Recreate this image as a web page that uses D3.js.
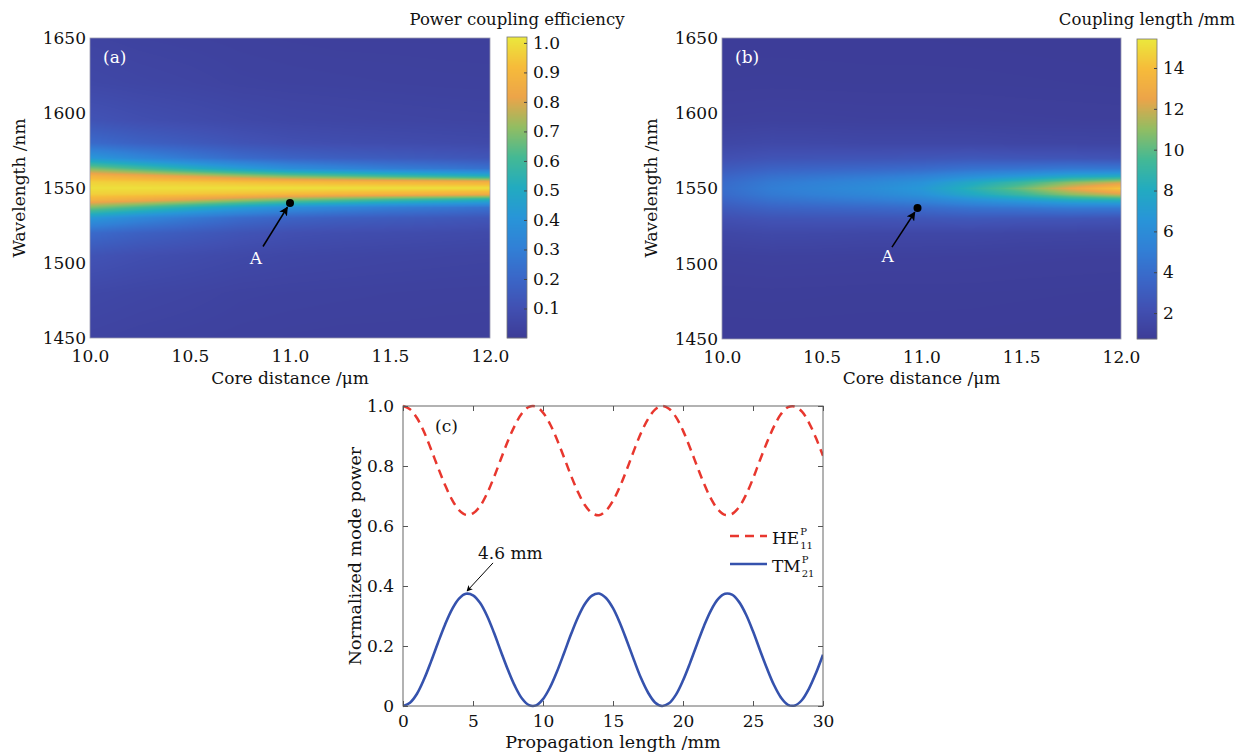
<!DOCTYPE html>
<html>
<head>
<meta charset="utf-8">
<script src="https://cdnjs.cloudflare.com/ajax/libs/d3/7.8.5/d3.min.js"></script>
<style>
  body { margin: 0; background: #fff; }
  text { font-family: "DejaVu Serif", serif; fill: #111; }
  .tick text { font-size: 17px; }
</style>
</head>
<body>
<div id="chart"></div>
<script>
//Grid of the two maps (columns = core distance, rows = wavelength).
var coreDistance = [10.0, 10.25, 10.5, 10.75, 11.0, 11.25, 11.5, 11.75, 12.0];
var wavelength = [1450, 1480, 1505, 1520, 1530, 1537, 1542, 1546, 1550,
                  1554, 1558, 1563, 1570, 1580, 1595, 1620, 1650];

//Power coupling efficiency, one row per wavelength.
var efficiency = [
  [0.040, 0.033, 0.029, 0.025, 0.022, 0.020, 0.020, 0.020, 0.020],
  [0.060, 0.051, 0.044, 0.035, 0.032, 0.030, 0.028, 0.026, 0.025],
  [0.116, 0.094, 0.080, 0.066, 0.056, 0.051, 0.047, 0.044, 0.041],
  [0.217, 0.176, 0.148, 0.118, 0.098, 0.088, 0.082, 0.076, 0.070],
  [0.420, 0.340, 0.276, 0.220, 0.186, 0.166, 0.153, 0.140, 0.126],
  [0.690, 0.610, 0.525, 0.445, 0.373, 0.333, 0.296, 0.272, 0.245],
  [0.880, 0.845, 0.795, 0.735, 0.677, 0.637, 0.594, 0.556, 0.517],
  [0.966, 0.957, 0.946, 0.930, 0.913, 0.900, 0.890, 0.878, 0.865],
  [1.000, 1.000, 1.000, 1.000, 1.000, 1.000, 1.000, 1.000, 1.000],
  [0.966, 0.957, 0.946, 0.930, 0.913, 0.900, 0.890, 0.878, 0.865],
  [0.880, 0.845, 0.795, 0.735, 0.677, 0.637, 0.594, 0.556, 0.517],
  [0.690, 0.610, 0.525, 0.445, 0.373, 0.333, 0.296, 0.272, 0.245],
  [0.420, 0.340, 0.276, 0.220, 0.186, 0.166, 0.153, 0.140, 0.126],
  [0.217, 0.176, 0.148, 0.118, 0.098, 0.088, 0.082, 0.076, 0.070],
  [0.116, 0.094, 0.080, 0.066, 0.056, 0.051, 0.047, 0.044, 0.041],
  [0.060, 0.051, 0.044, 0.035, 0.032, 0.030, 0.028, 0.026, 0.025],
  [0.040, 0.033, 0.029, 0.025, 0.022, 0.020, 0.020, 0.020, 0.020]
];

//Coupling length (mm), one row per wavelength.
var couplingLength = [
  [0.81, 0.81, 0.81, 0.81, 0.81, 0.80, 0.79, 0.78, 0.78],
  [0.87, 0.88, 0.87, 0.86, 0.86, 0.86, 0.85, 0.84, 0.82],
  [1.07, 1.12, 1.10, 1.07, 1.07, 1.05, 1.01, 0.99, 0.98],
  [1.52, 1.67, 1.63, 1.56, 1.56, 1.55, 1.45, 1.42, 1.39],
  [2.16, 2.43, 2.48, 2.50, 2.59, 2.71, 2.59, 2.54, 2.40],
  [2.87, 3.40, 3.56, 3.70, 3.91, 4.33, 4.49, 4.76, 4.70],
  [3.45, 4.22, 4.56, 4.85, 5.30, 6.18, 6.92, 7.81, 8.15],
  [3.84, 4.77, 5.22, 5.63, 6.35, 7.81, 9.16, 10.86, 12.00],
  [4.00, 5.00, 5.50, 6.00, 6.80, 8.50, 10.30, 12.50, 14.30],
  [3.84, 4.77, 5.22, 5.63, 6.35, 7.81, 9.16, 10.86, 12.00],
  [3.45, 4.22, 4.56, 4.85, 5.30, 6.18, 6.92, 7.81, 8.15],
  [2.87, 3.40, 3.56, 3.70, 3.91, 4.33, 4.49, 4.76, 4.70],
  [2.16, 2.43, 2.48, 2.50, 2.59, 2.71, 2.59, 2.54, 2.40],
  [1.52, 1.67, 1.63, 1.56, 1.56, 1.55, 1.45, 1.42, 1.39],
  [1.07, 1.12, 1.10, 1.07, 1.07, 1.05, 1.01, 0.99, 0.98],
  [0.87, 0.88, 0.87, 0.86, 0.86, 0.86, 0.85, 0.84, 0.82],
  [0.81, 0.81, 0.81, 0.81, 0.81, 0.80, 0.79, 0.78, 0.78]
];

var coreTicks = [10.0, 10.5, 11.0, 11.5, 12.0];
var wavelengthTicks = [1450, 1500, 1550, 1600, 1650];
var efficiencyTicks = [0.1, 0.2, 0.3, 0.4, 0.5, 0.6, 0.7, 0.8, 0.9, 1.0];
var lengthTicks = [2, 4, 6, 8, 10, 12, 14];

//Point A and its arrow, [core distance, wavelength] for (a) and (b).
var pointA = [[11.0, 1540], [10.98, 1537]];
var arrowTailA = [[10.865, 1511], [10.852, 1511]];
var labelA = [[10.83, 1503], [10.83, 1505]];

//Panel (c): normalized mode power along the propagation length (mm).
var propLength = [0, 0.5, 1, 1.5, 2, 2.5, 3, 3.5, 4, 4.5, 5, 5.5, 6, 6.5, 7, 7.5,
  8, 8.5, 9, 9.5, 10, 10.5, 11, 11.5, 12, 12.5, 13, 13.5, 14, 14.5, 15, 15.5,
  16, 16.5, 17, 17.5, 18, 18.5, 19, 19.5, 20, 20.5, 21, 21.5, 22, 22.5, 23,
  23.5, 24, 24.5, 25, 25.5, 26, 26.5, 27, 27.5, 28, 28.5, 29, 29.5, 30];
var powerHE = [1.000, 0.989, 0.960, 0.914, 0.856, 0.795, 0.737, 0.688, 0.653,
  0.637, 0.642, 0.666, 0.708, 0.763, 0.824, 0.884, 0.936, 0.976, 0.997, 0.998,
  0.978, 0.940, 0.888, 0.829, 0.768, 0.713, 0.669, 0.643, 0.636, 0.651, 0.684,
  0.732, 0.790, 0.852, 0.910, 0.956, 0.988, 1.000, 0.991, 0.963, 0.918, 0.861,
  0.800, 0.741, 0.691, 0.655, 0.637, 0.640, 0.663, 0.704, 0.758, 0.820, 0.879,
  0.932, 0.973, 0.996, 0.998, 0.981, 0.944, 0.893, 0.834];
var powerTM = [0.000, 0.011, 0.041, 0.089, 0.148, 0.211, 0.271, 0.322, 0.358,
  0.374, 0.369, 0.344, 0.301, 0.244, 0.181, 0.120, 0.066, 0.025, 0.003, 0.002,
  0.023, 0.062, 0.115, 0.176, 0.239, 0.296, 0.341, 0.368, 0.375, 0.360, 0.326,
  0.276, 0.216, 0.153, 0.093, 0.045, 0.012, 0.000, 0.009, 0.038, 0.085, 0.143,
  0.206, 0.267, 0.319, 0.356, 0.374, 0.371, 0.347, 0.305, 0.249, 0.186, 0.125,
  0.070, 0.028, 0.004, 0.002, 0.020, 0.058, 0.110, 0.171];
var propTicks = [0, 5, 10, 15, 20, 25, 30];
var powerTicks = [0, 0.2, 0.4, 0.6, 0.8, 1.0];
var peakNote = [[4.57, 0.383], [6.43, 0.477], [5.36, 0.49]]; //arrow head, arrow tail, text

//Parula-like colour map as printed.
var cmapStops = [0, 0.1, 0.2, 0.3, 0.4, 0.5, 0.6, 0.7, 0.8, 0.9, 1.0];
var cmapColors = ['#3d3c97', '#4150b2', '#3a67c8', '#3180d6', '#2895d8', '#22abc0',
                  '#44b994', '#92bd62', '#eca449', '#f6bb3a', '#ebe83c'];

var svg = d3.select('#chart').append('svg')
    .attr('width', 1243)
    .attr('height', 755);

var defs = svg.append('defs');
defs.append('marker')
    .attr('id', 'arrow')
    .attr('viewBox', '0 0 10 10')
    .attr('refX', 9).attr('refY', 5)
    .attr('markerWidth', 6).attr('markerHeight', 6)
    .attr('orient', 'auto')
  .append('path')
    .attr('d', 'M0,0 L10,5 L0,10 L2.5,5 z')
    .attr('fill', '#000');

//find the cell and the fraction inside it
function locate(arr, v) {
  var i = d3.bisectRight(arr, v) - 1;
  i = Math.max(0, Math.min(arr.length - 2, i));
  var t = (v - arr[i]) / (arr[i + 1] - arr[i]);
  return [i, Math.max(0, Math.min(1, t))];
}

function heatPanel(cfg) {
  var x = d3.scaleLinear().domain([10, 12]).range([cfg.left, cfg.right]);
  var y = d3.scaleLinear().domain([1450, 1650]).range([cfg.bottom, cfg.top]);
  var color = d3.scaleLinear()
      .domain(cmapStops.map(function(t) { return cfg.cLo + t * (cfg.cHi - cfg.cLo); }))
      .range(cmapColors)
      .clamp(true);

  //paint the map into a canvas, then put it in the svg
  var W = cfg.right - cfg.left, H = cfg.bottom - cfg.top;
  var canvas = document.createElement('canvas');
  canvas.width = W; canvas.height = H;
  var ctx = canvas.getContext('2d');
  var img = ctx.createImageData(W, H);
  var g = cfg.grid;
  var cols = d3.range(W).map(function(px) { return locate(coreDistance, x.invert(cfg.left + px + 0.5)); });
  for (var py = 0; py < H; py++) {
    var r = locate(wavelength, y.invert(cfg.top + py + 0.5));
    var i = r[0], a = r[1];
    for (var px = 0; px < W; px++) {
      var j = cols[px][0], b = cols[px][1];
      var v = (1 - a) * ((1 - b) * g[i][j] + b * g[i][j + 1]) +
              a * ((1 - b) * g[i + 1][j] + b * g[i + 1][j + 1]);
      var c = d3.rgb(color(v));
      var k = (py * W + px) * 4;
      img.data[k] = c.r; img.data[k + 1] = c.g; img.data[k + 2] = c.b; img.data[k + 3] = 255;
    }
  }
  ctx.putImageData(img, 0, 0);
  svg.append('image')
      .attr('x', cfg.left).attr('y', cfg.top)
      .attr('width', W).attr('height', H)
      .attr('preserveAspectRatio', 'none')
      .attr('href', canvas.toDataURL());
  svg.append('rect')
      .attr('x', cfg.left).attr('y', cfg.top)
      .attr('width', W).attr('height', H)
      .attr('fill', 'none').attr('stroke', '#9a9ab0').attr('stroke-width', 0.8);

  //axes
  svg.append('g')
      .attr('transform', 'translate(0,' + cfg.bottom + ')')
      .call(d3.axisBottom(x).tickValues(coreTicks).tickFormat(d3.format('.1f')).tickSize(0).tickPadding(12))
      .call(function(s) { s.select('.domain').remove(); });
  svg.append('g')
      .attr('transform', 'translate(' + cfg.left + ',0)')
      .call(d3.axisLeft(y).tickValues(wavelengthTicks).tickFormat(d3.format('d')).tickSize(0).tickPadding(4))
      .call(function(s) { s.select('.domain').remove(); });
  svg.selectAll('.tick text').attr('fill', '#111').style('font-family', '"DejaVu Serif", serif');

  svg.append('text')
      .attr('x', (cfg.left + cfg.right) / 2).attr('y', 384)
      .attr('text-anchor', 'middle').style('font-size', '17px')
      .text('Core distance /\u03bcm');
  svg.append('text')
      .attr('transform', 'translate(' + (cfg.left - 65) + ',188) rotate(-90)')
      .attr('text-anchor', 'middle').style('font-size', '17px')
      .text('Wavelength /nm');
  svg.append('text')
      .attr('x', cfg.left + 13).attr('y', 63)
      .style('font-size', '17px').style('fill', '#fff')
      .text(cfg.tag);

  //point A with arrow
  var p = pointA[cfg.idx], tl = arrowTailA[cfg.idx], lb = labelA[cfg.idx];
  var px0 = x(tl[0]), py0 = y(tl[1]), px1 = x(p[0]), py1 = y(p[1]);
  var len = Math.hypot(px1 - px0, py1 - py0);
  svg.append('line')
      .attr('x1', px0).attr('y1', py0)
      .attr('x2', px1 - (px1 - px0) / len * 5).attr('y2', py1 - (py1 - py0) / len * 5)
      .attr('stroke', '#000').attr('stroke-width', 1.5)
      .attr('marker-end', 'url(#arrow)');
  svg.append('circle')
      .attr('cx', px1).attr('cy', py1).attr('r', 4)
      .attr('fill', '#000');
  svg.append('text')
      .attr('x', x(lb[0])).attr('y', y(lb[1]))
      .attr('dy', '0.35em').attr('text-anchor', 'middle')
      .style('font-size', '17px').style('fill', '#fff')
      .text('A');

  //colorbar
  var cy = d3.scaleLinear().domain([cfg.cLo, cfg.cHi]).range([cfg.cbBottom, cfg.cbTop]);
  svg.append('g').selectAll('rect')
      .data(d3.range(cfg.cbTop, cfg.cbBottom))
    .enter()
    .append('rect')
      .attr('x', cfg.cbLeft).attr('y', function(d) { return d; })
      .attr('width', 20).attr('height', 1.2)
      .attr('fill', function(d) { return color(cy.invert(d + 0.5)); });
  svg.append('rect')
      .attr('x', cfg.cbLeft).attr('y', cfg.cbTop)
      .attr('width', 20).attr('height', cfg.cbBottom - cfg.cbTop)
      .attr('fill', 'none').attr('stroke', '#777').attr('stroke-width', 0.8);
  svg.append('g')
      .attr('transform', 'translate(' + (cfg.cbLeft + 20) + ',0)')
      .call(d3.axisRight(cy).tickValues(cfg.ticks).tickFormat(cfg.fmt).tickSizeInner(-3).tickSizeOuter(0).tickPadding(6))
      .call(function(s) {
        s.select('.domain').remove();
        s.selectAll('.tick line').attr('stroke', '#444');
        s.selectAll('.tick text').attr('fill', '#111').style('font-family', '"DejaVu Serif", serif');
      });
  svg.append('text')
      .attr('x', cfg.cbLeft + 10).attr('y', 25)
      .attr('text-anchor', 'middle').style('font-size', '16.5px')
      .text(cfg.title);
}

heatPanel({ idx: 0, tag: '(a)', left: 90, right: 490, top: 38, bottom: 338,
  grid: efficiency, cLo: 0.0, cHi: 1.02, cbLeft: 507, cbTop: 37, cbBottom: 338,
  ticks: efficiencyTicks, fmt: d3.format('.1f'), title: 'Power coupling efficiency' });
heatPanel({ idx: 1, tag: '(b)', left: 722, right: 1121, top: 38, bottom: 339,
  grid: couplingLength, cLo: 0.73, cHi: 15.42, cbLeft: 1137, cbTop: 39, cbBottom: 339,
  ticks: lengthTicks, fmt: d3.format('d'), title: 'Coupling length /mm' });

//Panel (c)
var cx = d3.scaleLinear().domain([0, 30]).range([403, 823]);
var cyp = d3.scaleLinear().domain([0, 1]).range([706, 406]);

defs.append('clipPath').attr('id', 'clipc')
  .append('rect').attr('x', 403).attr('y', 404).attr('width', 420).attr('height', 304);

var line = function(vals) {
  return d3.line()
      .x(function(d, i) { return cx(propLength[i]); })
      .y(function(d) { return cyp(d); })
      .curve(d3.curveCatmullRom)(vals);
};
var plotC = svg.append('g').attr('clip-path', 'url(#clipc)');
plotC.append('path')
    .attr('d', line(powerHE))
    .attr('fill', 'none').attr('stroke', '#e8372e').attr('stroke-width', 2.5)
    .attr('stroke-dasharray', '9,6');
plotC.append('path')
    .attr('d', line(powerTM))
    .attr('fill', 'none').attr('stroke', '#3552ad').attr('stroke-width', 2.6);

svg.append('rect')
    .attr('x', 403).attr('y', 406).attr('width', 420).attr('height', 300)
    .attr('fill', 'none').attr('stroke', '#666').attr('stroke-width', 1);

var axC = [
  ['translate(0,706)', d3.axisBottom(cx).tickValues(propTicks).tickFormat(d3.format('d')), true],
  ['translate(403,0)', d3.axisLeft(cyp).tickValues(powerTicks).tickFormat(function(d) { return d === 0 ? '0' : d3.format('.1f')(d); }), true],
  ['translate(0,406)', d3.axisTop(cx).tickValues(propTicks), false],
  ['translate(823,0)', d3.axisRight(cyp).tickValues(powerTicks), false]
];
axC.forEach(function(a) {
  var ax = a[1].tickSizeInner(-5).tickSizeOuter(0).tickPadding(a[2] ? 9 : 0);
  if (!a[2]) ax.tickFormat('');
  svg.append('g').attr('transform', a[0]).call(ax)
    .call(function(s) {
      s.select('.domain').remove();
      s.selectAll('.tick line').attr('stroke', '#555');
      s.selectAll('.tick text').attr('fill', '#111').style('font-family', '"DejaVu Serif", serif');
    });
});

svg.append('text')
    .attr('x', 613).attr('y', 748)
    .attr('text-anchor', 'middle').style('font-size', '17.5px')
    .text('Propagation length /mm');
svg.append('text')
    .attr('transform', 'translate(361,556) rotate(-90)')
    .attr('text-anchor', 'middle').style('font-size', '17.5px')
    .text('Normalized mode power');
svg.append('text')
    .attr('x', 435).attr('y', 432)
    .style('font-size', '17px')
    .text('(c)');

//peak annotation
svg.append('line')
    .attr('x1', cx(peakNote[1][0])).attr('y1', cyp(peakNote[1][1]))
    .attr('x2', cx(peakNote[0][0])).attr('y2', cyp(peakNote[0][1]))
    .attr('stroke', '#000').attr('stroke-width', 1)
    .attr('marker-end', 'url(#arrow)');
svg.append('text')
    .attr('x', cx(peakNote[2][0])).attr('y', cyp(peakNote[2][1]))
    .style('font-size', '17px')
    .text('4.6 mm');

//legend
var legend = [
  { name: 'HE', sub: '11', y: 536, color: '#e8372e', dash: '9,6' },
  { name: 'TM', sub: '21', y: 564, color: '#3552ad', dash: null }
];
legend.forEach(function(l) {
  svg.append('line')
      .attr('x1', 730).attr('x2', 767).attr('y1', l.y).attr('y2', l.y)
      .attr('stroke', l.color).attr('stroke-width', 2.5)
      .attr('stroke-dasharray', l.dash);
  var t = svg.append('text')
      .attr('x', 772).attr('y', l.y + 8)
      .style('font-size', '17px')
      .text(l.name);
  var w = t.node().getComputedTextLength();
  svg.append('text')
      .attr('x', 773 + w).attr('y', l.y - 1)
      .style('font-size', '10px')
      .text('P');
  svg.append('text')
      .attr('x', 773 + w).attr('y', l.y + 13)
      .style('font-size', '10px')
      .text(l.sub);
});
</script>
</body>
</html>
